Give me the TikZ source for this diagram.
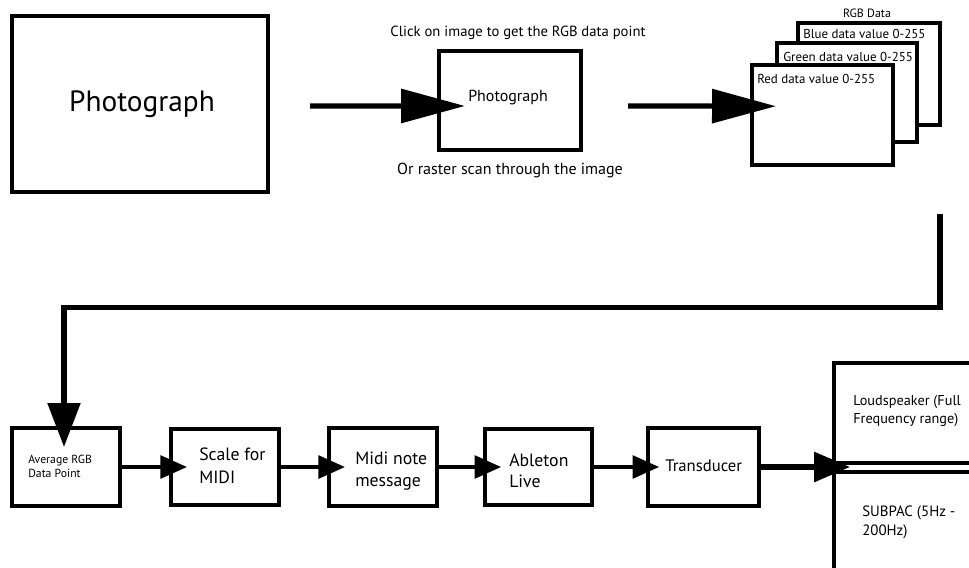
\documentclass[tikz,border=0pt]{standalone}
\usepackage{fontspec}
\setmainfont{PT Sans}
\usetikzlibrary{arrows.meta}
\newcommand{\fs}[2]{\fontsize{#1}{#2}\selectfont}
\begin{document}
\begin{tikzpicture}[x=0.75pt,y=-0.75pt,
  box/.style={draw, line width=3pt, fill=white, inner sep=0pt},
  bigbox/.style={box, line width=3.2pt},
  lbl/.style={inner sep=0pt, align=left},
  bigarr/.style={line width=3.9pt, -{Triangle[length=48pt,width=25pt]}},
  fbarr/.style={line width=3.9pt, -{Triangle[length=33pt,width=24pt]}},
  smallarr/.style={line width=3pt, -{Triangle[length=20pt,width=17pt]}},
  spkarr/.style={line width=3.8pt, -{Triangle[length=27pt,width=22pt]}}]
\clip (0,0) rectangle (969,567);
\fill[white] (0,0) rectangle (969,567);
% top row
\node[bigbox, minimum width=192pt, minimum height=132pt] (photo) at (140,104) {};
\node[lbl, font=\fs{22}{26}] (phototxt) at (142,104) {Photograph};
\node[box, minimum width=106.5pt, minimum height=74pt] (mid) at (510,100.5) {};
\node[lbl, font=\fs{12}{14}] (midtxt) at (508,98) {Photograph};
\node[lbl, font=\fs{11}{13}] (click) at (518,33) {Click on image to get the RGB data point};
\node[lbl, font=\fs{12}{14}] (raster) at (510,170) {Or raster scan through the image};
% stacked RGB boxes
\node[lbl, font=\fs{9}{11}] (rgbdata) at (867,13) {RGB Data};
\node[box, minimum width=106.5pt, minimum height=76.5pt] (blue) at (869,74) {};
\node[lbl, anchor=west, font=\fs{9.7}{11}] (bluetxt) at (803,34) {Blue data value 0-255};
\node[box, minimum width=105pt, minimum height=74pt] (green) at (847,92.5) {};
\node[lbl, anchor=west, font=\fs{9.7}{11}] (greentxt) at (783,57) {Green data value 0-255};
\node[box, minimum width=105.75pt, minimum height=75pt] (red) at (822.5,115) {};
\node[lbl, anchor=west, font=\fs{9.7}{11}] (redtxt) at (757,79) {Red data value 0-255};
% top arrows
\draw[bigarr] ([xshift=30pt,yshift=-1.5pt]photo.east) -- ([xshift=21pt,yshift=-4.1pt]mid.west);
\draw[bigarr] ([xshift=33.75pt,yshift=-4.1pt]mid.east) -- ([xshift=19.5pt,yshift=6.6pt]red.west);
% bottom row
\node[box, minimum width=81pt, minimum height=58pt] (avg) at (66,467) {};
\node[lbl, anchor=west, font=\fs{8.8}{10.5}] (avgtxt) at (28,466) {Average RGB\\Data Point};
\node[box, minimum width=81pt, minimum height=57pt] (scale) at (225,467) {};
\node[lbl, anchor=west, font=\fs{13.3}{17}] (scaletxt) at (199,466) {Scale for\\MIDI};
\node[box, minimum width=81pt, minimum height=58pt] (midi) at (383,467) {};
\node[lbl, anchor=west, font=\fs{13.3}{16.5}] (miditxt) at (355,471) {Midi note\\message};
\node[box, minimum width=80pt, minimum height=57pt] (ableton) at (538.5,467) {};
\node[lbl, anchor=west, font=\fs{13.3}{16}] (abletontxt) at (509,471) {Ableton\\Live};
\node[box, minimum width=83pt, minimum height=58.5pt] (trans) at (703.5,467) {};
\node[lbl, anchor=west, font=\fs{12.5}{14}] (transtxt) at (665,466) {Transducer};
% speakers
\node[box, minimum width=124.5pt, minimum height=75pt] (loud) at (917,413) {};
\node[lbl, anchor=west, font=\fs{10.7}{13.5}] (loudtxt) at (853,411) {Loudspeaker (Full\\Frequency range)};
\node[box, minimum width=124.5pt, minimum height=111pt] (sub) at (917,546) {};
\node[lbl, anchor=west, font=\fs{11.2}{14.5}] (subtxt) at (862,522) {SUBPAC (5Hz -\\200Hz)};
% feedback route
\coordinate (rgbout) at (940,214);
\coordinate (bend1) at (940,307.5);
\coordinate (bend2) at (64,307.5);
\coordinate (avgin) at (64,447);
\draw[fbarr] (rgbout) -- (bend1) -- (bend2) -- (avgin);
% bottom arrows
\draw[smallarr] (avg.east) -- ([xshift=13.5pt]scale.west);
\draw[smallarr] (scale.east) -- ([xshift=13.5pt]midi.west);
\draw[smallarr] (midi.east) -- ([xshift=13.5pt]ableton.west);
\draw[smallarr] (ableton.east) -- ([xshift=9.75pt]trans.west);
\coordinate (split) at (850,467);
\draw[spkarr] (trans.east) -- (split);
\end{tikzpicture}
\end{document}
